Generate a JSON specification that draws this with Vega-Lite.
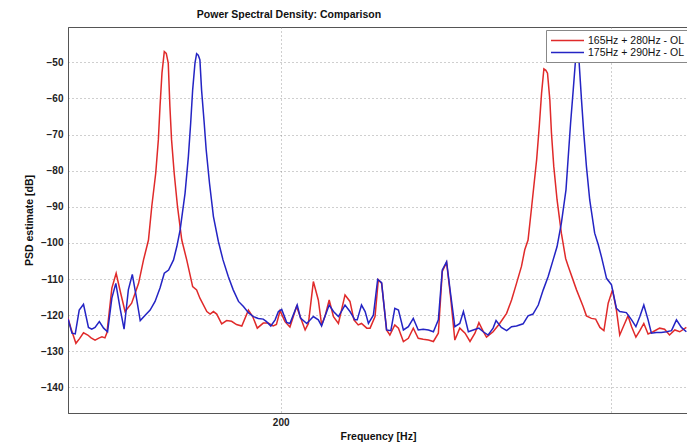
{
"$schema": "https://vega.github.io/schema/vega-lite/v6.json",
"width": 620, "height": 386,
"autosize": "none",
"padding": {"left": 68, "top": 27, "right": 0, "bottom": 31},
"background": "white",
"config": {"view": {"stroke": "#555", "strokeWidth": 1}, "font": "Liberation Sans"},
"title": {"text": "Power Spectral Density: Comparison", "fontSize": 10.5, "fontWeight": "bold", "anchor": "middle", "dx": -89, "offset": 7, "color": "#111"},
"datasets": {
"red": [
{"f":135.5,"p":-120.8},{"f":136.5,"p":-124},{"f":137.9,"p":-127.8},{"f":139,"p":-126.5},{"f":140.2,"p":-124.9},{"f":141.5,"p":-125.5},{"f":142.5,"p":-126.3},{"f":143.7,"p":-126.9},{"f":145,"p":-126.3},{"f":145.8,"p":-126},{"f":146.7,"p":-126.3},{"f":147.3,"p":-124.9},{"f":148.8,"p":-112.5},{"f":150.1,"p":-108.4},{"f":151.5,"p":-114},{"f":152.8,"p":-119},{"f":154.8,"p":-116.7},{"f":156.9,"p":-111.2},{"f":158.4,"p":-104.7},{"f":159.9,"p":-99.2},{"f":160.9,"p":-89.9},{"f":162.1,"p":-80.7},{"f":162.9,"p":-71.4},{"f":163.4,"p":-62.2},{"f":164,"p":-52.9},{"f":164.7,"p":-47},{"f":165.3,"p":-47.5},{"f":165.9,"p":-50.2},{"f":166.4,"p":-62.2},{"f":166.9,"p":-71.4},{"f":167.7,"p":-80.7},{"f":168.7,"p":-89.9},{"f":170,"p":-99.2},{"f":171.5,"p":-104.7},{"f":173.3,"p":-112.1},{"f":174.5,"p":-113},{"f":175.5,"p":-115.3},{"f":177.6,"p":-119},{"f":178.6,"p":-119.7},{"f":179.6,"p":-119},{"f":180.6,"p":-119.7},{"f":182.1,"p":-122.4},{"f":183.6,"p":-121.5},{"f":185.1,"p":-121.7},{"f":186.6,"p":-122.6},{"f":188.2,"p":-123},{"f":190.2,"p":-118.6},{"f":191.5,"p":-120.4},{"f":192.9,"p":-123.6},{"f":194.7,"p":-122.2},{"f":196.2,"p":-122.2},{"f":197.7,"p":-123},{"f":198.7,"p":-122.6},{"f":199.8,"p":-118.8},{"f":201.3,"p":-121.8},{"f":202.8,"p":-123.3},{"f":204.8,"p":-117.6},{"f":205.9,"p":-120.4},{"f":207.4,"p":-124.1},{"f":208.4,"p":-122.3},{"f":209.9,"p":-110.7},{"f":211.4,"p":-115.8},{"f":212.4,"p":-122.7},{"f":213.4,"p":-120.4},{"f":214.7,"p":-115.8},{"f":216,"p":-120.4},{"f":217.5,"p":-122.3},{"f":219.5,"p":-114.4},{"f":221,"p":-116.2},{"f":222.2,"p":-121.3},{"f":223.5,"p":-122.7},{"f":224.5,"p":-122.3},{"f":226.1,"p":-123.6},{"f":227.1,"p":-123.6},{"f":228.6,"p":-120.4},{"f":229.6,"p":-110.2},{"f":230.6,"p":-111.2},{"f":232.1,"p":-124.1},{"f":233.1,"p":-125.5},{"f":234.6,"p":-122.7},{"f":235.7,"p":-123.6},{"f":237.2,"p":-127.3},{"f":238.7,"p":-126.4},{"f":240.2,"p":-123.6},{"f":241.7,"p":-126.4},{"f":243.2,"p":-126.7},{"f":244.8,"p":-126.9},{"f":246.3,"p":-127.3},{"f":247.8,"p":-125},{"f":249,"p":-107.9},{"f":250.3,"p":-105.4},{"f":251.5,"p":-114.9},{"f":252.8,"p":-126.9},{"f":254.3,"p":-123.6},{"f":255.9,"p":-125},{"f":257.4,"p":-127.3},{"f":258.9,"p":-125},{"f":260.1,"p":-122.1},{"f":261.4,"p":-124.5},{"f":262.4,"p":-126.1},{"f":264.4,"p":-124.6},{"f":266.4,"p":-122.3},{"f":268.5,"p":-119.5},{"f":270,"p":-115.8},{"f":271.5,"p":-111.2},{"f":273,"p":-106.5},{"f":274,"p":-101.9},{"f":275,"p":-99.2},{"f":276.1,"p":-89.9},{"f":277.6,"p":-77},{"f":278.4,"p":-67.7},{"f":279.1,"p":-58.5},{"f":279.8,"p":-51.8},{"f":280.4,"p":-52.2},{"f":280.9,"p":-53},{"f":281.6,"p":-60.3},{"f":282.1,"p":-69.6},{"f":282.8,"p":-78.8},{"f":283.8,"p":-88.1},{"f":285.1,"p":-97.3},{"f":286.4,"p":-104.3},{"f":287.2,"p":-106.5},{"f":289.7,"p":-113},{"f":291.7,"p":-117.6},{"f":292.7,"p":-120.2},{"f":294.2,"p":-120.9},{"f":295.5,"p":-121.1},{"f":296.8,"p":-123.4},{"f":298,"p":-124.3},{"f":299.3,"p":-116.7},{"f":300.6,"p":-113},{"f":301.8,"p":-118.6},{"f":302.8,"p":-125.5},{"f":304.3,"p":-122.3},{"f":305.3,"p":-120.2},{"f":306.4,"p":-123.2},{"f":307.7,"p":-126.1},{"f":308.9,"p":-124.3},{"f":310.1,"p":-122.3},{"f":311.4,"p":-125.2},{"f":312.9,"p":-124.6},{"f":314.9,"p":-123.6},{"f":316.4,"p":-123.9},{"f":317.9,"p":-125.5},{"f":319.5,"p":-124.1},{"f":321,"p":-124.6},{"f":323,"p":-123.4}
],
"blue": [
{"f":135.5,"p":-121},{"f":136.7,"p":-125},{"f":137.7,"p":-125.2},{"f":138.9,"p":-118.6},{"f":140.2,"p":-117},{"f":141.7,"p":-123.4},{"f":142.7,"p":-123.9},{"f":143.7,"p":-123.4},{"f":145,"p":-121.8},{"f":146.3,"p":-123.6},{"f":147.5,"p":-124.6},{"f":148.8,"p":-115.3},{"f":150,"p":-111.2},{"f":151.3,"p":-118.1},{"f":152.5,"p":-123.9},{"f":153.8,"p":-113},{"f":155,"p":-108.7},{"f":156.1,"p":-114.4},{"f":157.4,"p":-121.5},{"f":158.9,"p":-120},{"f":160.4,"p":-118.6},{"f":161.9,"p":-116.2},{"f":163.4,"p":-112.5},{"f":164.7,"p":-108.4},{"f":166,"p":-107.5},{"f":167.5,"p":-104.7},{"f":168.5,"p":-101},{"f":169.5,"p":-96.4},{"f":171,"p":-86.2},{"f":172,"p":-76.1},{"f":172.7,"p":-66.8},{"f":173.3,"p":-57.6},{"f":174,"p":-50.2},{"f":174.5,"p":-47.6},{"f":175,"p":-48},{"f":175.5,"p":-49.3},{"f":176,"p":-57.6},{"f":176.8,"p":-66.8},{"f":177.4,"p":-74.2},{"f":178.4,"p":-83.4},{"f":179.6,"p":-92.7},{"f":181.1,"p":-99.6},{"f":182.5,"p":-104.7},{"f":184.1,"p":-109.3},{"f":185.6,"p":-113},{"f":187.2,"p":-116.2},{"f":188.7,"p":-117.6},{"f":190.2,"p":-119.3},{"f":191.7,"p":-120.4},{"f":193.2,"p":-120.9},{"f":194.7,"p":-121.1},{"f":195.7,"p":-121.8},{"f":197,"p":-123},{"f":198.3,"p":-121.3},{"f":199.3,"p":-119},{"f":200.3,"p":-118.4},{"f":201.8,"p":-122},{"f":202.8,"p":-122.3},{"f":203.8,"p":-120},{"f":205,"p":-117.2},{"f":206,"p":-120.8},{"f":207.9,"p":-122.3},{"f":209.9,"p":-120.4},{"f":211.4,"p":-121.3},{"f":212.4,"p":-123},{"f":213.4,"p":-120.4},{"f":214.7,"p":-117.2},{"f":216,"p":-119},{"f":217.5,"p":-120.4},{"f":219.5,"p":-117.2},{"f":221,"p":-119},{"f":222.5,"p":-121.3},{"f":223.2,"p":-121.3},{"f":224.5,"p":-117.2},{"f":225.6,"p":-119},{"f":226.6,"p":-122.3},{"f":228.1,"p":-120},{"f":229.4,"p":-110.1},{"f":230.6,"p":-111},{"f":232.1,"p":-124.1},{"f":233.4,"p":-124.3},{"f":234.6,"p":-118.1},{"f":235.7,"p":-118.6},{"f":237.2,"p":-124.1},{"f":238.7,"p":-123.2},{"f":240.2,"p":-120.9},{"f":241.7,"p":-124.1},{"f":243.2,"p":-123.9},{"f":244.8,"p":-124.1},{"f":246.3,"p":-124.6},{"f":247.8,"p":-121.3},{"f":249,"p":-107.5},{"f":250.3,"p":-105.2},{"f":251.5,"p":-114},{"f":252.8,"p":-123.2},{"f":254.3,"p":-122.3},{"f":255.4,"p":-119},{"f":256.9,"p":-124.6},{"f":258.4,"p":-124.1},{"f":260.1,"p":-123.6},{"f":261.4,"p":-124.6},{"f":262.9,"p":-125.5},{"f":264.4,"p":-123.6},{"f":265.3,"p":-121.5},{"f":266.9,"p":-123.4},{"f":268.5,"p":-124.3},{"f":270,"p":-123.2},{"f":271.5,"p":-123},{"f":273.5,"p":-122.4},{"f":275,"p":-120.2},{"f":276.5,"p":-119.7},{"f":278.1,"p":-117.2},{"f":279.6,"p":-113},{"f":281.1,"p":-109.3},{"f":282.6,"p":-104.7},{"f":283.8,"p":-101},{"f":285.1,"p":-94.5},{"f":286.5,"p":-85.3},{"f":287.2,"p":-76},{"f":287.9,"p":-66.8},{"f":288.7,"p":-57.6},{"f":289.4,"p":-49.3},{"f":290,"p":-48.2},{"f":290.5,"p":-50.2},{"f":291.2,"p":-60.3},{"f":291.9,"p":-69.6},{"f":292.7,"p":-78.8},{"f":293.7,"p":-88.1},{"f":295.2,"p":-97.3},{"f":296.3,"p":-100.5},{"f":297.3,"p":-104},{"f":298.8,"p":-109.8},{"f":300.3,"p":-111.6},{"f":301.8,"p":-118.1},{"f":302.8,"p":-119},{"f":304.8,"p":-119.3},{"f":306.4,"p":-121.3},{"f":307.7,"p":-123.2},{"f":308.9,"p":-120.4},{"f":310.1,"p":-117.2},{"f":311.4,"p":-121.3},{"f":312.4,"p":-125},{"f":313.9,"p":-124.8},{"f":315.4,"p":-124.8},{"f":317,"p":-124.6},{"f":318.5,"p":-124.3},{"f":320,"p":-121.3},{"f":321.5,"p":-123.4},{"f":323,"p":-124.6}
]
},
"encoding": {
  "x": {"field": "f", "type": "quantitative",
    "scale": {"domain": [135.5, 323.5], "nice": false, "zero": false},
    "axis": {"values": [200, 300], "labelExpr": "datum.value == 200 ? '200' : ''", "title": "Frequency [Hz]",
      "grid": true, "gridDash": [1, 3], "gridColor": "#888", "gridOpacity": 0.8, "ticks": false,
      "labelFontSize": 10, "labelFontWeight": "bold", "labelColor": "#222", "labelPadding": 4,
      "titleFontSize": 10.5, "titleFontWeight": "bold", "titleColor": "#111", "titlePadding": 4,
      "domainColor": "#555"}},
  "y": {"field": "p", "type": "quantitative",
    "scale": {"domain": [-147.1, -40.2], "nice": false, "zero": false},
    "axis": {"values": [-140, -130, -120, -110, -100, -90, -80, -70, -60, -50], "title": "PSD estimate [dB]",
      "grid": true, "gridDash": [1, 3], "gridColor": "#888", "gridOpacity": 0.8, "ticks": false,
      "labelFontSize": 10, "labelFontWeight": "bold", "labelColor": "#222", "labelPadding": 5,
      "titleFontSize": 10.5, "titleFontWeight": "bold", "titleColor": "#111", "titlePadding": 6,
      "domainColor": "#555"}}
},
"layer": [
  {"data": {"name": "red"}, "mark": {"type": "line", "strokeWidth": 1.5, "clip": true},
   "encoding": {"color": {"datum": "165Hz + 280Hz - OL",
     "scale": {"domain": ["165Hz + 280Hz - OL", "175Hz + 290Hz - OL"], "range": ["#e02a2a", "#2424c4"]},
     "legend": {"orient": "none", "legendX": 478, "legendY": 3, "title": null, "symbolType": "M-3,0H3",
       "symbolSize": 121, "symbolStrokeWidth": 1.5, "symbolOffset": 11, "labelFontSize": 10.5, "labelColor": "#111",
       "fillColor": "white", "strokeColor": "#888", "padding": 4, "rowPadding": 0, "labelOffset": 14}}}},
  {"data": {"name": "blue"}, "mark": {"type": "line", "strokeWidth": 1.5, "clip": true},
   "encoding": {"color": {"datum": "175Hz + 290Hz - OL"}}}
]
}
